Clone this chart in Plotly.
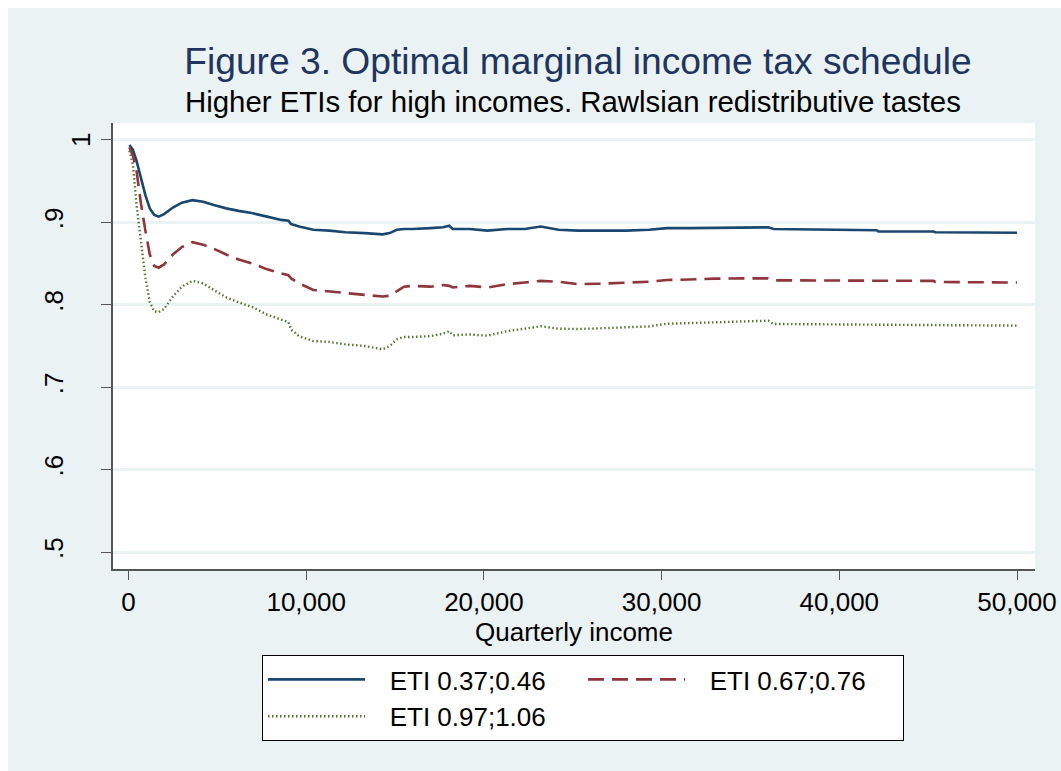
import plotly.graph_objects as go

# Quarterly income grid (common to all three schedules)
income = [50, 250, 450, 700, 950, 1200, 1450, 1700, 2000, 2500, 3000, 3600,
          4200, 4800, 5500, 6200, 7000, 7800, 8600, 9000, 9150, 9600, 10400,
          11300, 12200, 13300, 14300, 14700, 15100, 15500, 16000, 17000, 17700,
          18050, 18250, 19200, 20200, 21300, 22300, 23200, 24200, 25300, 26500,
          28000, 29300, 30300, 31600, 33000, 34600, 36000, 36300, 37800, 40000,
          42100, 42200, 45300, 45400, 48000, 49100, 50000]

# Optimal marginal tax rates for each ETI scenario
eti_low = [.994, .988, .975, .954, .933, .917, .909, .907, .910, .918, .924, .927,
           .925, .921, .917, .914, .911, .907, .903, .902, .898, .895, .891,
           .890, .888, .887, .8855, .887, .891, .892, .892, .893, .894,
           .896, .892, .892, .890, .892, .892, .895, .891, .890, .890,
           .890, .891, .893, .893, .8935, .894, .894, .892, .8915, .8905,
           .8905, .889, .889, .888, .888, .888, .8875]

eti_mid = [.991, .981, .963, .923, .890, .861, .847, .845, .849, .861, .870, .876,
           .873, .868, .861, .855, .850, .843, .838, .836, .832, .826, .818,
           .816, .814, .812, .810, .811, .817, .822, .823, .822, .824,
           .823, .821, .823, .821, .825, .827, .829, .828, .825, .8256,
           .827, .828, .830, .831, .8317, .832, .832, .8297, .8295, .8293,
           .8292, .829, .829, .8277, .8275, .8273, .827]

eti_high = [.987, .970, .922, .875, .833, .803, .792, .791, .795, .810, .822, .829,
            .826, .818, .809, .803, .797, .788, .782, .779, .770, .762, .756,
            .755, .752, .750, .746, .750, .758, .761, .761, .762, .765,
            .768, .763, .764, .7625, .768, .771, .774, .771, .7706, .7714,
            .7727, .7738, .777, .778, .779, .780, .7807, .7767, .7765, .7762,
            .776, .7758, .775, .775, .7755, .775, .7747]

series_names = ["ETI 0.37;0.46", "ETI 0.67;0.76", "ETI 0.97;1.06"]
y_ticks = [0.5, 0.6, 0.7, 0.8, 0.9, 1.0]
y_tick_text = [".5", ".6", ".7", ".8", ".9", "1"]
x_ticks = [0, 10000, 20000, 30000, 40000, 50000]

BG = "#EAF2F3"
AXIS = "#555555"
FONT = "Liberation Sans, Arial, sans-serif"
PAD = "\u00a0\u00a0\u2009"  # gap between legend key and its label
Y_RANGE = [0.4794, 1.0206]

fig = go.Figure()
fig.add_trace(go.Scatter(x=income, y=eti_low, mode="lines", name=PAD + series_names[0],
                         line=dict(color="#1A476F", width=2.6)))
fig.add_trace(go.Scatter(x=income, y=eti_mid, mode="lines", name=PAD + series_names[1],
                         line=dict(color="#90353B", width=2.6, dash="16px,8px")))
fig.add_trace(go.Scatter(x=income, y=eti_high, mode="lines", name=PAD + series_names[2],
                         line=dict(color="#55752F", width=2.4, dash="1.5px,2.5px")))

W, H = 1061, 771
L, R, T, B = 113, 26, 123, 202
pw, ph = W - L - R, H - T - B


def px_x(p):
    return (p - L) / pw


def px_y(p):
    return (H - B - p) / ph


tick_font = dict(family=FONT, size=26, color="black")

# the top label "1" sits closer to the axis than the fractional ones
axis_labels = [d if d != "1" else "" for d in y_tick_text]

fig.update_layout(
    width=W, height=H,
    margin=dict(l=L, r=R, t=T, b=B, pad=0, autoexpand=False),
    paper_bgcolor=BG,
    plot_bgcolor="white",
    font=dict(family=FONT, size=26, color="black"),
    title=dict(text="Figure 3. Optimal marginal income tax schedule",
               font=dict(family=FONT, size=37.2, color="#1F3561"),
               x=px_x(578), xref="paper", xanchor="center",
               y=1 - 61 / H, yref="container", yanchor="middle"),
    showlegend=True,
    legend=dict(orientation="h", x=px_x(262), y=px_y(655),
                xanchor="left", yanchor="top",
                bgcolor="white", bordercolor="black", borderwidth=1,
                font=dict(family=FONT, size=26, color="black"),
                entrywidth=208, itemwidth=97, traceorder="normal"),
    xaxis=dict(range=[-872, 51013], tickvals=x_ticks, tickformat=",",
               automargin=False,
               showgrid=False, zeroline=False,
               showline=True, linecolor=AXIS, linewidth=1.5,
               ticks="outside", ticklen=9, tickwidth=1, tickcolor=AXIS,
               tickfont=tick_font),
    yaxis=dict(range=Y_RANGE, tickvals=y_ticks, ticktext=axis_labels,
               tickangle=-90, automargin=False,
               showgrid=True, gridcolor=BG, gridwidth=3, zeroline=False,
               showline=True, linecolor=AXIS, linewidth=1.5,
               ticks="outside", ticklen=10, tickwidth=1, tickcolor=AXIS,
               ticklabelstandoff=28, tickfont=tick_font),
    annotations=[
        dict(text="Higher ETIs for high incomes. Rawlsian redistributive tastes",
             xref="paper", yref="paper", x=px_x(572.5), y=px_y(102),
             xanchor="center", yanchor="middle", showarrow=False,
             font=dict(family=FONT, size=29.4, color="black")),
        dict(text="Quarterly income", xref="paper", yref="paper",
             x=0.5, y=px_y(632), xanchor="center", yanchor="middle",
             showarrow=False, font=dict(family=FONT, size=26, color="black")),
        dict(text=y_tick_text[-1], xref="paper", yref="y",
             x=px_x(81), y=y_ticks[-1], textangle=-90,
             xanchor="center", yanchor="middle", showarrow=False,
             font=tick_font),
    ],
    shapes=[
        # thin white frame along the top and left edges of the page
        dict(type="rect", xref="paper", yref="paper", layer="below",
             x0=px_x(0), x1=px_x(W), y0=px_y(8), y1=px_y(0),
             fillcolor="white", line=dict(width=0)),
        dict(type="rect", xref="paper", yref="paper", layer="below",
             x0=px_x(0), x1=px_x(8), y0=px_y(H), y1=px_y(0),
             fillcolor="white", line=dict(width=0)),
    ],
)

fig.write_html("out.html")
